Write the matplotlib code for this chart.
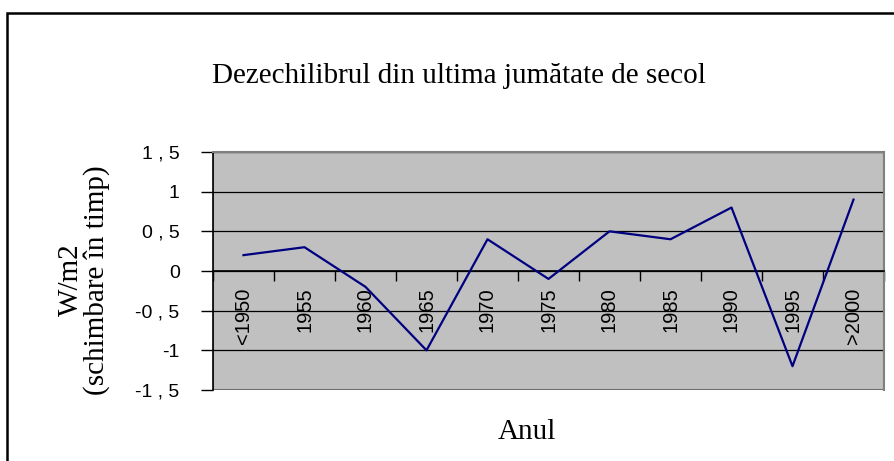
import matplotlib
matplotlib.use("Agg")
import matplotlib.pyplot as plt
from matplotlib.patches import Rectangle
import numpy as np

categories = ["<1950", "1955", "1960", "1965", "1970", "1975", "1980", "1985", "1990", "1995", ">2000"]
values = [0.2, 0.3, -0.2, -1.0, 0.4, -0.1, 0.5, 0.4, 0.8, -1.2, 0.9]
yticks = [-1.5, -1.0, -0.5, 0.0, 0.5, 1.0, 1.5]
ytick_labels = ["-1 , 5", "-1", "-0 , 5", "0", "0 , 5", "1", "1 , 5"]
title = "Dezechilibrul din ultima jumătate de secol"
ylabel = "W/m2\n(schimbare în timp)"
xlabel = "Anul"

W, H = 894, 461
fig = plt.figure(figsize=(W / 100, H / 100), dpi=100)
fig.patch.set_facecolor("white")

# outer chart border (extends beyond the image on right/bottom)
fig.patches.append(Rectangle((7 / W, -0.1), 1.1, 1 - 13 / H + 0.1, transform=fig.transFigure,
                             fill=False, edgecolor="black", linewidth=1.8))

l, r, t, b = 213 / W, 884 / W, 1 - 152 / H, 1 - 390 / H
ax = fig.add_axes([l, b, r - l, t - b])
ax.set_facecolor("#C0C0C0")

n = len(categories)
x = np.arange(n)
ax.set_xlim(-0.5, n - 0.5)
ax.set_ylim(-1.5, 1.5)

for yv in yticks:
    ax.axhline(yv, color="black", linewidth=0.9, zorder=1)

ax.plot(x, values, color="#000080", linewidth=1.6, zorder=3)

sans = ["Liberation Sans", "DejaVu Sans"]
serif = ["Liberation Serif", "DejaVu Serif"]

ax.set_yticks(yticks)
ax.set_yticklabels(ytick_labels, fontsize=14, family=sans)
ax.tick_params(axis="y", direction="out", length=9, width=1, color="black", pad=15)

ax.spines["bottom"].set_position(("data", 0))
ax.set_xticks(np.arange(n + 1) - 0.5)
ax.set_xticklabels([])
ax.set_xticks(x, minor=True)
ax.set_xticklabels(categories, minor=True, rotation=90, fontsize=14.5, family=sans, va="top", ha="center")
ax.tick_params(axis="x", which="major", direction="out", length=7, width=1, color="black")
ax.tick_params(axis="x", which="minor", length=0, pad=12)

ax.spines["left"].set_color("black")
ax.spines["left"].set_linewidth(1.2)
ax.spines["bottom"].set_color("black")
ax.spines["bottom"].set_linewidth(1.2)
for s in ["top", "right"]:
    ax.spines[s].set_color("#808080")
    ax.spines[s].set_linewidth(1.5)
# gray bottom frame
ax.add_patch(Rectangle((0, 0), 1, 1, transform=ax.transAxes, fill=False, edgecolor="#808080",
                       linewidth=1.5, zorder=0.5))

fig.text(458.5 / W, 1 - 83 / H, title, ha="center", va="baseline", fontsize=21, family=serif)
fig.text(527 / W, 1 - 439 / H, xlabel, ha="center", va="baseline", fontsize=21, family=serif)
fig.text(84 / W, 1 - 280 / H, ylabel, ha="center", va="center", rotation=90, fontsize=21,
         family=serif, linespacing=0.95, multialignment="center")

fig.savefig("out.png", dpi=100)
